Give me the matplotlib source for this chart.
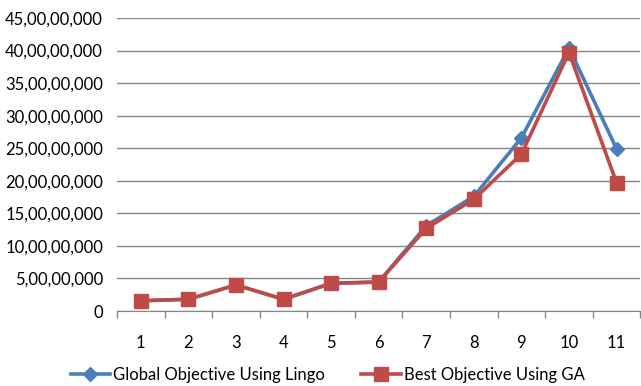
import matplotlib
matplotlib.use("Agg")
import matplotlib.pyplot as plt
from matplotlib.ticker import FuncFormatter, MultipleLocator, FixedLocator

categories = [1, 2, 3, 4, 5, 6, 7, 8, 9, 10, 11]
lingo = [1.58e7, 1.8e7, 4.0e7, 1.8e7, 4.25e7, 4.45e7, 13.1e7, 17.6e7, 26.6e7, 40.4e7, 24.9e7]
ga = [1.58e7, 1.8e7, 4.0e7, 1.8e7, 4.25e7, 4.45e7, 12.7e7, 17.15e7, 24.1e7, 39.7e7, 19.7e7]

blue = "#4A7EBB"
red = "#BE4B48"
plt.rcParams["font.family"] = ["Lato", "DejaVu Sans"]


def indian(v, pos=None):
    n = int(round(v))
    if n == 0:
        return "0"
    s = str(n)
    last3 = s[-3:]
    rest = s[:-3]
    groups = []
    while len(rest) > 2:
        groups.insert(0, rest[-2:])
        rest = rest[:-2]
    if rest:
        groups.insert(0, rest)
    return ",".join(groups + [last3])


fig = plt.figure(figsize=(6.41, 3.86), dpi=100)
ax = fig.add_axes([117 / 641, 1 - 311 / 386, 1 - 117 / 641 - 0.001, (311 - 18) / 386])

x = list(range(len(categories)))
ax.plot(x, lingo, color=blue, lw=2.6, marker="D", ms=7, label="Global Objective Using Lingo", zorder=3)
ax.plot(x, ga, color=red, lw=2.6, marker="s", ms=10, label="Best Objective Using GA", zorder=4)

ax.set_xlim(-0.5, len(categories) - 0.5)
ax.set_ylim(0, 45e7)
ax.yaxis.set_major_locator(MultipleLocator(5e7))
ax.yaxis.set_major_formatter(FuncFormatter(indian))
ax.grid(axis="y", color="#868686", lw=1)
ax.set_axisbelow(True)

ax.set_xticks(x)
ax.set_xticklabels([str(c) for c in categories])
ax.xaxis.set_minor_locator(FixedLocator([i - 0.5 for i in range(len(categories) + 1)]))
ax.tick_params(axis="x", which="major", length=0, pad=17, labelsize=12)
ax.tick_params(axis="x", which="minor", length=5, color="#868686", width=1)
ax.tick_params(axis="y", length=0, pad=10, labelsize=12)

for side in ["top", "right", "left"]:
    ax.spines[side].set_visible(False)
ax.spines["bottom"].set_color("#868686")

leg = fig.legend(loc="center", bbox_to_anchor=(0.511, 1 - 375 / 386), ncol=2, frameon=False,
                 fontsize=12, handlelength=2.35, columnspacing=2.2, handletextpad=0.18,
                 borderpad=0.1)

fig.savefig("out.png", dpi=100)
